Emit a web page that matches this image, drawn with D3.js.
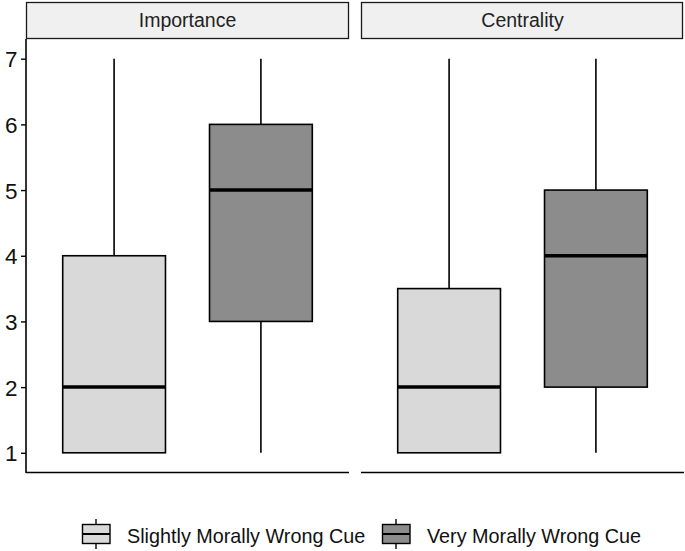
<!DOCTYPE html>
<html><head><meta charset="utf-8">
<script src="https://cdn.jsdelivr.net/npm/d3@7"></script>
<style>body{margin:0;background:#fff}svg{display:block}text{font-family:Arial,"Liberation Sans",sans-serif}</style>
</head><body>
<script>
const facets = ["Importance", "Centrality"];
const groups = ["Slightly Morally Wrong Cue", "Very Morally Wrong Cue"];
const fills = ["#D9D9D9", "#8C8C8C"];
// [min, q1, median, q3, max] per facet per group
const importanceStats = [[1, 1, 2, 4, 7], [1, 3, 5, 6, 7]];
const centralityStats = [[1, 1, 2, 3.5, 7], [1, 2, 4, 5, 7]];
const yTicks = [1, 2, 3, 4, 5, 6, 7];
const statsByFacet = [importanceStats, centralityStats];

const W = 685, H = 551;
const svg = d3.select("body").append("svg").attr("width", W).attr("height", H);

const y = d3.scaleLinear().domain([0.7, 7.3]).range([472.5, 39]);
const panels = [[26, 349], [361, 684]];

facets.forEach((f, i) => {
  const [x0, x1] = panels[i];
  const x = d3.scaleLinear().domain([0.4, 2.6]).range([x0, x1]);
  const g = svg.append("g");
  // strip
  g.append("rect").attr("x", x0 + 0.5).attr("y", 2.5).attr("width", (i === 0 ? 323 : 322) - 1).attr("height", 36)
    .attr("fill", "#F0F0F0").attr("stroke", "#1a1a1a").attr("stroke-width", 1.3);
  g.append("text").attr("x", (x0 + x1) / 2).attr("y", 27).attr("text-anchor", "middle")
    .style("font-size", "19.5px").attr("fill", "#222").text(f);
  const stats = statsByFacet[i];
  stats.forEach((s, k) => {
    const cx = x(k + 1), hw = (x(1.35) - x(1));
    g.append("line").attr("x1", cx).attr("x2", cx).attr("y1", y(s[0])).attr("y2", y(s[1]))
      .attr("stroke", "#000").attr("stroke-width", 1.6);
    g.append("line").attr("x1", cx).attr("x2", cx).attr("y1", y(s[3])).attr("y2", y(s[4]))
      .attr("stroke", "#000").attr("stroke-width", 1.6);
    g.append("rect").attr("x", cx - hw).attr("y", y(s[3])).attr("width", 2 * hw).attr("height", y(s[1]) - y(s[3]))
      .attr("fill", fills[k]).attr("stroke", "#000").attr("stroke-width", 1.6);
    g.append("line").attr("x1", cx - hw).attr("x2", cx + hw).attr("y1", y(s[2])).attr("y2", y(s[2]))
      .attr("stroke", "#000").attr("stroke-width", 3.5);
  });
  // bottom axis line
  g.append("line").attr("x1", x0).attr("x2", x1).attr("y1", 472.5).attr("y2", 472.5)
    .attr("stroke", "#000").attr("stroke-width", 1.6);
});

// y axis
const ya = svg.append("g").attr("transform", "translate(26,0)")
  .call(d3.axisLeft(y).tickValues(yTicks).tickSize(5).tickPadding(3.5).tickFormat(d3.format("d")));
ya.attr("font-family", null).attr("font-size", null);
ya.select(".domain").attr("d", `M0,39V473`).attr("stroke", "#000").attr("stroke-width", 1.6);
ya.selectAll(".tick line").attr("stroke", "#000").attr("stroke-width", 1.4);
ya.selectAll(".tick text").style("font-size", "22.5px").attr("fill", "#111").attr("dy", "0.36em");

// legend
const legX = [82, 382];
groups.forEach((gname, k) => {
  const lx = legX[k], ly = 534;
  const lg = svg.append("g");
  lg.append("line").attr("x1", lx + 14).attr("x2", lx + 14).attr("y1", ly - 15).attr("y2", ly + 15)
    .attr("stroke", "#000").attr("stroke-width", 1.4);
  lg.append("rect").attr("x", lx + 0.5).attr("y", ly - 9.5).attr("width", 27.5).attr("height", 19)
    .attr("fill", fills[k]).attr("stroke", "#000").attr("stroke-width", 1.4);
  lg.append("line").attr("x1", lx + 0.5).attr("x2", lx + 28).attr("y1", ly).attr("y2", ly)
    .attr("stroke", "#000").attr("stroke-width", 2);
  lg.append("text").attr("x", lx + 45).attr("y", 543).style("font-size", "19.8px").attr("fill", "#111").text(gname);
});
</script>
</body></html>
